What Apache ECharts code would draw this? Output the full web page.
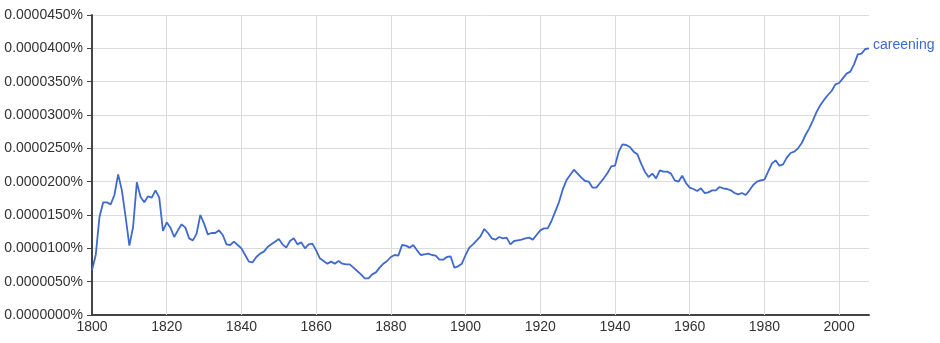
<!DOCTYPE html>
<html>
<head>
<meta charset="utf-8">
<script src="https://cdn.jsdelivr.net/npm/echarts@6/dist/echarts.min.js"></script>
<style>html,body{margin:0;padding:0;background:#fff}#c{width:940px;height:343px}</style>
</head>
<body>
<div id="c"></div>
<script>
// Values in units of 1e-7 percent (e.g. 100 => 0.0000100%)
const seriesName = 'careening';
const firstYear = 1800;
const values = [
  67, 90, 147, 169, 169, 166, 180, 211, 187, 147,
  104, 132, 199, 177, 169, 178, 176, 187, 176, 126,
  139, 131, 117, 127, 136, 131, 115, 112, 122, 150,
  137, 121, 123, 123, 127, 120, 106, 105, 110, 105,
  100, 90, 80, 79, 87, 92, 95, 102, 106, 110,
  114, 106, 101, 111, 115, 106, 109, 100, 106, 107,
  97, 85, 81, 77, 80, 77, 81, 77, 76, 76,
  71, 66, 61, 55, 55, 61, 64, 71, 77, 81,
  87, 90, 89, 105, 104, 101, 105, 97, 90, 91,
  92, 90, 89, 83, 83, 87, 88, 71, 73, 77,
  90, 101, 106, 112, 118, 129, 123, 115, 113, 117,
  115, 116, 106, 111, 112, 113, 115, 116, 113, 120,
  127, 130, 130, 141, 155, 169, 188, 202, 210, 218,
  212, 206, 201, 200, 191, 191, 198, 205, 213, 223,
  224, 245, 256, 255, 252, 245, 241, 227, 215, 207,
  212, 205, 217, 215, 215, 212, 202, 200, 209, 198,
  191, 189, 186, 190, 183, 184, 187, 187, 192, 190,
  189, 187, 183, 181, 183, 180, 187, 195, 200, 202,
  203, 215, 227, 232, 224, 226, 236, 243, 245, 250,
  258, 270, 280, 292, 305, 315, 323, 330, 336, 346,
  348, 355, 362, 365, 376, 391, 392, 399, 400
];
const xTicks = [1800, 1820, 1840, 1860, 1880, 1900, 1920, 1940, 1960, 1980, 2000];
const yTicks = [0, 50, 100, 150, 200, 250, 300, 350, 400, 450];

const lastYear = firstYear + values.length - 1;
const data = values.map((v, i) => [firstYear + i, v]);
const font = "'Liberation Sans', Arial, sans-serif";
const lineColor = '#3f69cc';

const chart = echarts.init(document.getElementById('c'), null, {renderer: 'canvas'});
chart.setOption({
  animation: false,
  backgroundColor: '#fff',
  grid: {left: 92, right: 71, top: 15, bottom: 28, containLabel: false},
  xAxis: {
    type: 'value',
    min: firstYear,
    max: lastYear,
    interval: 20,
    axisLine: {show: true, lineStyle: {color: '#444', width: 2}},
    axisTick: {show: false},
    axisLabel: {
      color: '#333', fontSize: 14, fontFamily: font, margin: 5,
      customValues: xTicks,
      formatter: v => (xTicks.indexOf(v) >= 0 ? String(v) : '')
    },
    splitLine: {show: false}
  },
  yAxis: {
    type: 'value',
    min: yTicks[0],
    max: yTicks[yTicks.length - 1],
    interval: 50,
    axisLine: {show: true, lineStyle: {color: '#444', width: 2}},
    axisTick: {show: true, length: 5, lineStyle: {color: '#444', width: 1}},
    axisLabel: {
      color: '#333', fontSize: 14, fontFamily: font, margin: 9,
      formatter: v => (v / 1e7).toFixed(7) + '%'
    },
    splitLine: {show: true, lineStyle: {color: '#dcdcdc', width: 1}}
  },
  series: [{
    name: seriesName,
    type: 'line',
    data: data,
    showSymbol: false,
    symbol: 'none',
    lineStyle: {color: lineColor, width: 1.8},
    itemStyle: {color: lineColor},
    z: 3,
    endLabel: {
      show: true,
      formatter: seriesName,
      color: lineColor,
      fontSize: 14,
      fontFamily: font,
      distance: 4,
      offset: [0, -3]
    },
    markLine: {
      silent: true,
      symbol: 'none',
      z: 1,
      label: {show: false},
      lineStyle: {color: '#dcdcdc', width: 1, type: 'solid'},
      emphasis: {disabled: true},
      data: xTicks.filter(v => v > firstYear).map(v => ({xAxis: v}))
    }
  }]
});
</script>
</body>
</html>
